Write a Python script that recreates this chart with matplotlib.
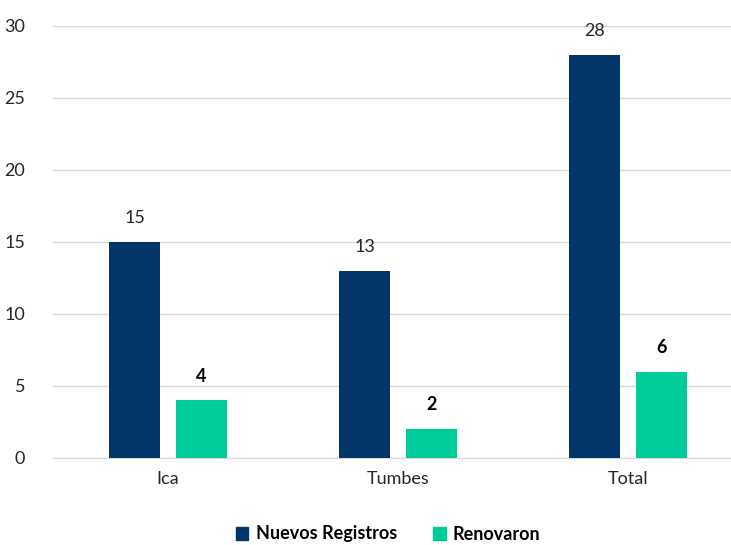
import matplotlib
matplotlib.use('Agg')
import matplotlib.pyplot as plt
from matplotlib.patches import Patch
import numpy as np

plt.rcParams['font.family'] = ['Lato', 'DejaVu Sans']

# Data
categories = ['Ica', 'Tumbes', 'Total']
nuevos = [15, 13, 28]
renovaron = [4, 2, 6]

navy = '#02356A'
green = '#00CC99'

fig = plt.figure(figsize=(7.31, 5.45), dpi=100)
ax = fig.add_axes([53/731, 1 - 458/545, 678/731, 432/545])

x = np.arange(len(categories))
w = 0.222
off = 0.144
b1 = ax.bar(x - off, nuevos, w, color=navy, zorder=3)
b2 = ax.bar(x + off, renovaron, w, color=green, zorder=3)

for rect, v in zip(b1, nuevos):
    ax.text(rect.get_x() + rect.get_width()/2, v + 1.1, str(v),
            ha='center', va='bottom', fontsize=13, color='#262626')
for rect, v in zip(b2, renovaron):
    ax.text(rect.get_x() + rect.get_width()/2, v + 1.1, str(v),
            ha='center', va='bottom', fontsize=13, fontweight='bold', color='black')

ax.set_ylim(0, 30)
ax.set_yticks(range(0, 31, 5))
ax.set_xlim(-0.5, 678/230 - 0.5)
ax.set_xticks(x)
ax.set_xticklabels(categories)
ax.tick_params(axis='both', labelsize=13, colors='#262626', length=0)
ax.tick_params(axis='y', pad=20)
ax.tick_params(axis='x', pad=9)
ax.grid(axis='y', color='#D9D9D9', linewidth=1, zorder=0)
for s in ['top', 'right', 'left']:
    ax.spines[s].set_visible(False)
ax.spines['bottom'].set_color('#D9D9D9')

handles = [Patch(color=navy, label='Nuevos Registros'),
           Patch(color=green, label='Renovaron')]
fig.legend(handles=handles, loc='center', bbox_to_anchor=(388/731, 1 - 534/545),
           ncol=2, frameon=False, prop={'weight': 'bold', 'size': 13},
           handlelength=0.7, handleheight=0.7, handletextpad=0.4, columnspacing=2.0)

fig.savefig('out.png', dpi=100)
